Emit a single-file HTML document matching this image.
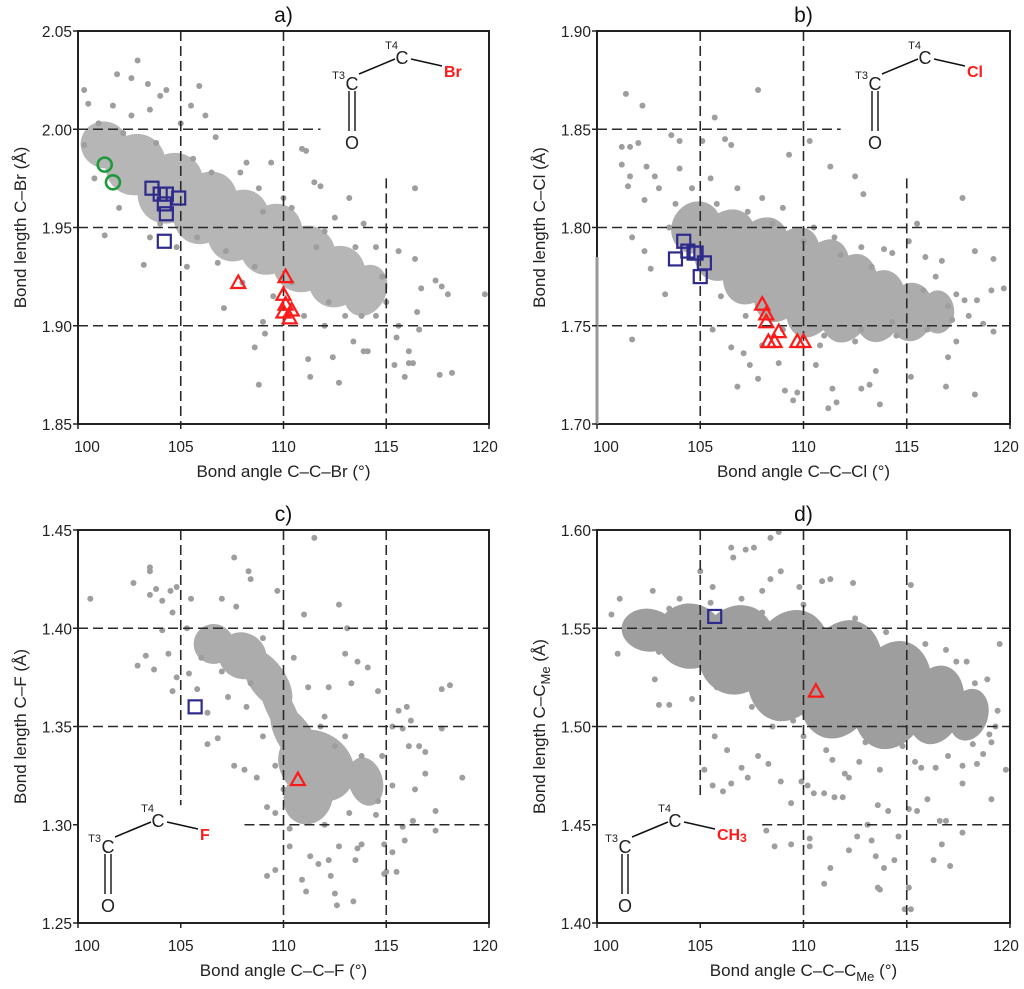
<!DOCTYPE html>
<html><head><meta charset="utf-8"><style>
html,body{margin:0;padding:0;background:#fff;}
svg{display:block;font-family:"Liberation Sans",Arial,sans-serif;}
</style></head><body>
<svg id="fig" width="1024" height="989" viewBox="0 0 1024 989" xmlns="http://www.w3.org/2000/svg"></svg>
<script>
// ---------- DATA ----------
const xTicks = [100,105,110,115,120];
const brYTicks = [1.85,1.90,1.95,2.00,2.05];
const clYTicks = [1.70,1.75,1.80,1.85,1.90];
const fYTicks = [1.25,1.30,1.35,1.40,1.45];
const meYTicks = [1.40,1.45,1.50,1.55,1.60];

// dense regions along band [angle, length, halfLengthDeg, halfThicknessÅ]
const brDense = [[101.3,1.992,1.0,0.014],[102.8,1.982,1.2,0.019],[104.5,1.970,1.3,0.022],[106.2,1.960,1.3,0.022],[107.8,1.951,1.3,0.021],[109.4,1.944,1.3,0.021],[111.0,1.934,1.3,0.020],[112.6,1.925,1.2,0.018],[114.0,1.918,0.9,0.015]];
const brPoints = [[102.9,2.035],[101.9,2.028],[102.6,2.026],[103.4,2.023],[105.9,2.022],[100.3,2.020],[100.5,2.013],[101.7,2.012],[104.3,2.020],[104.0,2.017],[105.5,2.012],[106.2,2.007],[102.6,2.007],[103.5,2.010],[105.0,2.003],[106.7,1.996],[100.3,1.992],[110.9,1.990],[111.1,1.989],[101.3,1.946],[103.2,1.931],[107.1,1.909],[109.0,1.902],[109.1,1.896],[108.6,1.889],[108.8,1.870],[112.7,1.871],[111.2,1.883],[111.3,1.874],[112.4,1.884],[113.4,1.892],[113.9,1.887],[114.1,1.887],[115.4,1.880],[115.9,1.874],[116.1,1.881],[116.3,1.881],[116.1,1.887],[117.6,1.875],[118.2,1.876],[119.8,1.916],[116.4,1.970],[116.4,1.934],[116.5,1.907],[116.6,1.898],[117.4,1.923],[117.7,1.920],[118.0,1.916],[115.6,1.938],[115.6,1.900],[115.5,1.894],[116.7,1.919],[113.2,1.965],[112.5,1.955],[113.9,1.952],[111.8,1.971],[111.5,1.973],[114.5,1.940],[108.2,1.983],[109.4,1.983],[107.9,1.978],[110.0,1.965],[106.8,1.932],[105.3,1.930],[108.0,1.922],[109.5,1.915],[111.0,1.905],[112.0,1.900],[114.5,1.905],[115.0,1.912],[102.0,1.960],[100.8,1.975],[103.5,1.945],[104.8,1.940],[114.8,1.925],[113.0,1.905],[101.0,2.003],[102.2,1.998],[103.8,1.993],[105.6,1.985],[106.5,1.978],[108.8,1.970],[110.4,1.960],[112.0,1.948],[113.5,1.940],[104.0,1.952],[105.8,1.945],[107.2,1.938],[108.6,1.930],[110.4,1.922],[112.2,1.912],[113.8,1.905],[109.0,1.958],[111.6,1.940]];
const brSquares = [[103.6,1.970],[104.0,1.967],[104.3,1.967],[104.9,1.965],[104.2,1.962],[104.3,1.957],[104.2,1.943]];
const brTriangles = [[107.8,1.922],[110.1,1.925],[110.0,1.916],[110.1,1.911],[110.0,1.907],[110.4,1.908],[110.3,1.904]];
const brCircles = [[101.3,1.982],[101.7,1.973]];

const clDense = [[104.8,1.800,1.0,0.016],[106.2,1.791,1.2,0.022],[107.7,1.783,1.3,0.026],[109.2,1.776,1.3,0.028],[110.7,1.769,1.3,0.028],[112.2,1.764,1.3,0.024],[113.7,1.760,1.2,0.019],[115.2,1.757,1.1,0.015],[116.5,1.757,0.8,0.011]];
const clPoints = [[101.4,1.868],[102.2,1.862],[107.8,1.870],[105.7,1.856],[101.6,1.841],[101.2,1.841],[102.0,1.843],[103.6,1.847],[104.0,1.844],[105.1,1.844],[106.2,1.845],[106.5,1.842],[109.3,1.837],[110.3,1.844],[111.3,1.831],[112.5,1.826],[112.9,1.817],[117.7,1.815],[115.5,1.802],[101.2,1.832],[101.6,1.826],[102.4,1.831],[102.8,1.826],[101.5,1.821],[102.3,1.814],[101.7,1.795],[102.3,1.788],[102.6,1.779],[103.3,1.766],[101.7,1.743],[105.6,1.748],[106.5,1.739],[107.1,1.736],[106.8,1.719],[107.4,1.730],[107.8,1.723],[108.8,1.731],[109.1,1.717],[109.5,1.712],[109.7,1.716],[110.6,1.730],[111.2,1.708],[111.6,1.711],[111.4,1.718],[112.8,1.718],[113.2,1.720],[113.7,1.710],[113.5,1.727],[115.2,1.724],[116.9,1.719],[118.3,1.715],[117.0,1.734],[117.4,1.742],[119.2,1.747],[118.7,1.751],[118.4,1.763],[119.1,1.768],[119.7,1.769],[119.2,1.784],[118.3,1.788],[117.8,1.763],[117.2,1.753],[115.1,1.793],[113.9,1.789],[114.3,1.787],[116.7,1.783],[115.9,1.785],[116.4,1.775],[117.4,1.766],[103.0,1.820],[104.0,1.830],[105.5,1.825],[106.8,1.820],[108.0,1.815],[109.0,1.810],[110.5,1.800],[111.5,1.795],[112.8,1.790],[103.5,1.800],[108.0,1.740],[110.8,1.740],[112.5,1.742],[114.5,1.745],[116.0,1.748],[103.8,1.812],[104.6,1.820],[105.8,1.812],[107.3,1.808],[108.5,1.802],[110.0,1.793],[111.8,1.786],[113.3,1.780],[106.0,1.765],[107.2,1.755],[109.0,1.748],[111.0,1.745],[112.8,1.748],[114.3,1.752],[115.8,1.768],[117.0,1.760],[118.0,1.755]];
const clSquares = [[103.8,1.784],[104.2,1.793],[104.4,1.788],[104.7,1.787],[104.8,1.787],[105.2,1.782],[105.0,1.775]];
const clTriangles = [[108.0,1.761],[108.2,1.756],[108.2,1.752],[108.8,1.747],[108.3,1.742],[108.6,1.742],[109.7,1.742],[110.0,1.742]];

const fDense = [[106.6,1.392,0.9,0.011],[108.0,1.386,1.0,0.014],[109.2,1.374,1.0,0.016],[109.9,1.358,1.0,0.016],[110.6,1.344,1.0,0.017],[111.6,1.330,1.6,0.021],[113.0,1.326,1.4,0.020],[111.2,1.314,1.1,0.015],[114.0,1.322,0.8,0.013]];
const fPoints = [[100.6,1.415],[102.7,1.423],[103.5,1.431],[103.5,1.429],[103.5,1.417],[103.8,1.420],[104.1,1.414],[104.5,1.419],[104.8,1.421],[105.5,1.415],[107.6,1.436],[108.3,1.429],[108.4,1.425],[109.7,1.419],[111.5,1.446],[112.7,1.412],[111.0,1.407],[107.0,1.415],[107.7,1.411],[102.9,1.381],[103.3,1.386],[103.7,1.379],[104.1,1.399],[104.6,1.408],[104.4,1.387],[104.8,1.375],[104.6,1.368],[105.4,1.377],[105.8,1.369],[106.3,1.357],[106.3,1.341],[106.8,1.344],[107.6,1.330],[108.1,1.328],[108.7,1.324],[113.1,1.400],[113.0,1.387],[113.6,1.383],[114.1,1.380],[112.2,1.370],[113.3,1.372],[114.6,1.368],[115.6,1.358],[116.0,1.360],[116.2,1.353],[115.3,1.350],[115.8,1.349],[116.1,1.340],[116.6,1.340],[116.9,1.337],[117.7,1.349],[117.7,1.369],[118.1,1.371],[116.9,1.326],[118.7,1.324],[116.4,1.318],[117.4,1.307],[117.4,1.297],[115.9,1.292],[116.3,1.302],[115.8,1.299],[114.9,1.290],[115.3,1.286],[115.0,1.276],[115.5,1.276],[114.9,1.275],[113.6,1.288],[113.5,1.282],[113.8,1.290],[113.4,1.261],[112.5,1.265],[112.6,1.259],[112.3,1.274],[112.2,1.282],[111.7,1.280],[111.3,1.284],[110.9,1.272],[111.1,1.266],[110.3,1.289],[109.2,1.274],[109.6,1.277],[109.2,1.309],[109.6,1.306],[112.7,1.289],[107.3,1.365],[108.2,1.360],[112.0,1.355],[113.0,1.345],[114.8,1.335],[115.3,1.320],[114.5,1.305],[110.3,1.298],[105.3,1.400],[106.0,1.385],[107.0,1.378],[108.4,1.372],[109.0,1.395],[110.5,1.385],[111.2,1.370],[111.8,1.350],[112.5,1.340],[109.0,1.345],[109.6,1.330],[113.8,1.335],[114.6,1.312],[112.0,1.300],[113.2,1.306],[110.0,1.318]];
const fSquares = [[105.7,1.360]];
const fTriangles = [[110.7,1.323]];

const meDense = [[102.5,1.549,1.3,0.011],[104.5,1.546,1.6,0.017],[106.8,1.539,1.8,0.024],[109.3,1.531,1.9,0.030],[111.8,1.524,1.9,0.032],[114.3,1.516,1.8,0.029],[116.4,1.511,1.3,0.021],[118.0,1.506,0.9,0.014]];
const mePoints = [[100.7,1.557],[101.1,1.565],[101.0,1.537],[101.7,1.553],[102.7,1.569],[102.8,1.524],[103.0,1.511],[103.5,1.511],[104.6,1.514],[105.0,1.579],[105.6,1.571],[105.2,1.478],[105.6,1.470],[106.1,1.467],[106.5,1.471],[106.5,1.591],[106.6,1.586],[107.2,1.590],[107.6,1.591],[108.4,1.596],[108.8,1.599],[108.9,1.579],[108.4,1.575],[108.0,1.569],[109.8,1.571],[110.9,1.574],[111.3,1.575],[112.4,1.573],[115.2,1.572],[105.7,1.495],[106.3,1.488],[107.0,1.479],[107.3,1.474],[107.8,1.485],[108.3,1.481],[108.9,1.472],[109.4,1.461],[108.6,1.439],[108.2,1.447],[109.4,1.440],[109.9,1.472],[110.2,1.470],[110.3,1.443],[110.3,1.439],[110.5,1.466],[111.0,1.466],[111.3,1.428],[111.0,1.420],[111.5,1.464],[111.9,1.464],[112.2,1.474],[112.2,1.437],[112.6,1.444],[113.3,1.442],[113.5,1.434],[113.6,1.418],[113.7,1.417],[113.9,1.428],[114.4,1.432],[114.6,1.444],[114.1,1.457],[113.6,1.460],[113.1,1.450],[115.1,1.418],[114.9,1.407],[115.2,1.407],[115.1,1.458],[115.5,1.457],[116.0,1.463],[116.3,1.432],[116.6,1.452],[116.9,1.452],[116.7,1.440],[117.1,1.429],[117.7,1.471],[117.7,1.446],[119.1,1.463],[119.8,1.478],[119.1,1.492],[119.5,1.542],[119.4,1.508],[118.9,1.524],[118.3,1.522],[117.9,1.533],[117.4,1.533],[116.9,1.539],[115.9,1.542],[118.2,1.491],[118.7,1.486],[118.4,1.481],[117.7,1.480],[117.0,1.485],[116.4,1.479],[115.7,1.479],[115.4,1.482],[113.7,1.478],[112.7,1.482],[112.0,1.476],[111.4,1.483],[111.1,1.488],[119.3,1.500],[119.0,1.496],[118.6,1.506],[117.9,1.515],[104.0,1.565],[107.0,1.565],[110.0,1.562],[112.5,1.555],[114.0,1.548],[108.5,1.500],[110.0,1.495],[113.0,1.492],[114.8,1.490],[103.5,1.560],[105.5,1.563],[108.0,1.558],[110.5,1.553],[113.2,1.545],[115.5,1.532],[105.8,1.520],[107.5,1.510],[109.5,1.503],[111.8,1.498],[114.0,1.496],[116.0,1.495],[117.5,1.500],[101.8,1.545],[103.0,1.538]];
const meSquares = [[105.7,1.556]];
const meTriangles = [[110.6,1.518]];

// ---------- DRAWING ----------
const NS = "http://www.w3.org/2000/svg";
const svg = document.getElementById('fig');
function mk(tag, attrs, parent){const e=document.createElementNS(NS,tag);for(const k in attrs)e.setAttribute(k,attrs[k]);(parent||svg).appendChild(e);return e;}

const panels = [
 {id:'a',L:78,R:489,T:31,B:424,yTicks:brYTicks,dense:brDense,pts:brPoints,sq:brSquares,tri:brTriangles,circ:brCircles,op:0.75,
  vg:[[105,2.05,1.85],[110,2.05,1.85],[115,1.975,1.85]],hg:[[2.00,100,111.8],[1.95,100,120],[1.90,100,120]],
  yTitle:'Bond length C\u2013Br (\u00C5)',xTitle:'Bond angle C\u2013C\u2013Br (\u00B0)',sub:'Br',ins:[352,57]},
 {id:'b',L:597,R:1010,T:31,B:424,yTicks:clYTicks,dense:clDense,pts:clPoints,sq:clSquares,tri:clTriangles,circ:[],op:0.85,
  vg:[[105,1.90,1.70],[110,1.90,1.70],[115,1.825,1.70]],hg:[[1.85,100,111.8],[1.80,100,120],[1.75,100,120]],
  yTitle:'Bond length C\u2013Cl (\u00C5)',xTitle:'Bond angle C\u2013C\u2013Cl (\u00B0)',sub:'Cl',ins:[875,57]},
 {id:'c',L:78,R:489,T:530,B:923,yTicks:fYTicks,dense:fDense,pts:fPoints,sq:fSquares,tri:fTriangles,circ:[],op:0.85,
  vg:[[105,1.45,1.31],[110,1.45,1.25],[115,1.45,1.25]],hg:[[1.40,100,120],[1.35,100,120],[1.30,108.1,120]],
  yTitle:'Bond length C\u2013F (\u00C5)',xTitle:'Bond angle C\u2013C\u2013F (\u00B0)',sub:'F',ins:[108,820]},
 {id:'d',L:597,R:1010,T:530,B:923,yTicks:meYTicks,dense:meDense,pts:mePoints,sq:meSquares,tri:meTriangles,circ:[],op:1,
  vg:[[105,1.60,1.465],[110,1.60,1.40],[115,1.60,1.40]],hg:[[1.55,100,120],[1.50,100,120],[1.45,108,120]],
  yTitle:'me',xTitle:'me',sub:'CH3',ins:[625,820]}
];

panels.forEach(p=>{
  const y0=p.yTicks[0], y1=p.yTicks[p.yTicks.length-1];
  const sx=v=>p.L+(v-100)/20*(p.R-p.L);
  const sy=v=>p.B-(v-y0)/(y1-y0)*(p.B-p.T);
  const kx=(p.R-p.L)/20, ky=(p.B-p.T)/(y1-y0);
  const g=mk('g',{});
  
  
  const cx=(p.L+p.R)/2, cy=(p.T+p.B)/2;
  const t=mk('text',{x:cx,y:p.T-9,'font-size':21,'text-anchor':'middle',fill:'#111'},g);
  t.textContent=p.id+')';
  
  
  const dg=mk('g',{opacity:p.op},g);
  p.dense.forEach((d,i)=>{
    const a=p.dense[Math.max(0,i-1)], b=p.dense[Math.min(p.dense.length-1,i+1)];
    const th=Math.atan2(sy(b[1])-sy(a[1]), sx(b[0])-sx(a[0]));
    const rx=d[2]*kx/Math.cos(th), ry=d[3]*ky*Math.cos(th);
    const X=sx(d[0]), Y=sy(d[1]);
    const e=mk('ellipse',{cx:X,cy:Y,rx:rx,ry:ry,fill:'#9e9e9e',transform:`rotate(${th*180/Math.PI} ${X} ${Y})`},dg);
    
    
  });
  p.pts.forEach(d=>{
    const c=mk('circle',{cx:sx(d[0]),cy:sy(d[1]),r:3,fill:'#9e9e9e'},g);
    
    
  });
  p.vg.forEach(v=>{
    const l=mk('line',{x1:sx(v[0]),x2:sx(v[0]),y1:sy(v[1]),y2:sy(v[2]),stroke:'#2a2a2a','stroke-width':1.6,'stroke-dasharray':'10 5'},g);
    
    
  });
  p.hg.forEach(h=>{
    const l=mk('line',{x1:sx(h[1]),x2:sx(h[2]),y1:sy(h[0]),y2:sy(h[0]),stroke:'#2a2a2a','stroke-width':1.6,'stroke-dasharray':'10 5'},g);
    
    
  });
  p.circ.forEach(d=>{
    const c=mk('circle',{cx:sx(d[0]),cy:sy(d[1]),r:7,fill:'none',stroke:'#1e9a3c','stroke-width':2.6},g);
    
    
  });
  p.sq.forEach(d=>{
    const r=mk('rect',{x:sx(d[0])-6.5,y:sy(d[1])-6.5,width:13,height:13,fill:'none',stroke:'#2e2a8c','stroke-width':2.2},g);
    
    
  });
  p.tri.forEach(d=>{
    const X=sx(d[0]),Y=sy(d[1]);
    const r=mk('polygon',{points:`${X},${Y-7} ${X-7},${Y+5.5} ${X+7},${Y+5.5}`,fill:'none',stroke:'#ff1a1a','stroke-width':2.2},g);
    
    
  });
  const f=mk('rect',{x:p.L,y:p.T,width:p.R-p.L,height:p.B-p.T,fill:'none',stroke:'#222','stroke-width':2},g);
  
  
  if(p.id==='b'){
    const gl=mk('line',{x1:p.L,x2:p.L,y1:sy(1.785),y2:p.B,stroke:'#999','stroke-width':3},g);
    
    
  }
  xTicks.forEach(v=>{
    mk('line',{x1:sx(v),x2:sx(v),y1:p.B,y2:p.B+5,stroke:'#222','stroke-width':1.5},g);
    const tx=mk('text',{x:sx(v)+(v===100?9:v===120?-4:0),y:p.B+28,'font-size':15.5,'text-anchor':'middle',fill:'#222'},g);
    tx.textContent=v;
    
    
  });
  p.yTicks.forEach(v=>{
    mk('line',{x1:p.L-5,x2:p.L,y1:sy(v),y2:sy(v),stroke:'#222','stroke-width':1.5},g);
    const ty=mk('text',{x:p.L-6,y:sy(v)+6,'font-size':15.5,'text-anchor':'end',fill:'#222'},g);
    ty.textContent=v.toFixed(2);
    
    
  });
  const xt=mk('text',{x:cx,y:p.B+53,'font-size':17,'text-anchor':'middle',fill:'#222'},g);
  
  
  const yt=mk('text',{x:0,y:0,'font-size':17,'text-anchor':'middle',fill:'#222',transform:`translate(${p.L-52},${cy}) rotate(-90)`},g);
  
  
  if(p.id==='d'){
    xt.innerHTML='Bond angle C\u2013C\u2013C<tspan font-size="13" dy="5">Me</tspan><tspan dy="-5"> (\u00B0)</tspan>';
    yt.innerHTML='Bond length C\u2013C<tspan font-size="13" dy="5">Me</tspan><tspan dy="-5"> (\u00C5)</tspan>';
  } else { xt.textContent=p.xTitle; yt.textContent=p.yTitle; }
  const ix=p.ins[0], iy=p.ins[1];
  const s=mk('g',{},g);
  
  
  const c3=[ix,iy+26], c4=[ix+50,iy], hx=[ix+96,iy+14];
  mk('line',{x1:c3[0]+7,y1:c3[1]-9,x2:c4[0]-7,y2:c4[1]+2,stroke:'#111','stroke-width':1.5},s);
  mk('line',{x1:c4[0]+9,y1:c4[1]+2,x2:hx[0]-6,y2:hx[1]-5,stroke:'#111','stroke-width':1.5},s);
  mk('line',{x1:c3[0]-3,y1:c3[1]+8,x2:c3[0]-3,y2:c3[1]+48,stroke:'#111','stroke-width':1.4},s);
  mk('line',{x1:c3[0]+3,y1:c3[1]+8,x2:c3[0]+3,y2:c3[1]+48,stroke:'#111','stroke-width':1.4},s);
  const tC3=mk('text',{x:c3[0],y:c3[1]+7,'font-size':18,'text-anchor':'middle',fill:'#222'},s);tC3.textContent='C';
  const tT3=mk('text',{x:c3[0]-7,y:c3[1]-4,'font-size':11,'text-anchor':'end',fill:'#222'},s);tT3.textContent='T3';
  const tC4=mk('text',{x:c4[0],y:c4[1]+7,'font-size':18,'text-anchor':'middle',fill:'#222'},s);tC4.textContent='C';
  const tT4=mk('text',{x:c4[0]-4,y:c4[1]-8,'font-size':11,'text-anchor':'end',fill:'#222'},s);tT4.textContent='T4';
  const tO=mk('text',{x:c3[0],y:c3[1]+66,'font-size':18,'text-anchor':'middle',fill:'#222'},s);tO.textContent='O';
  const tH=mk('text',{x:hx[0]-4,y:hx[1]+6,'font-size':16,'font-weight':'bold','text-anchor':'start',fill:'#ff1a1a'},s);
  if(p.sub==='CH3'){tH.innerHTML='CH<tspan font-size="12" dy="2">3</tspan>';} else tH.textContent=p.sub;
  
  
});
</script>
</body></html>
